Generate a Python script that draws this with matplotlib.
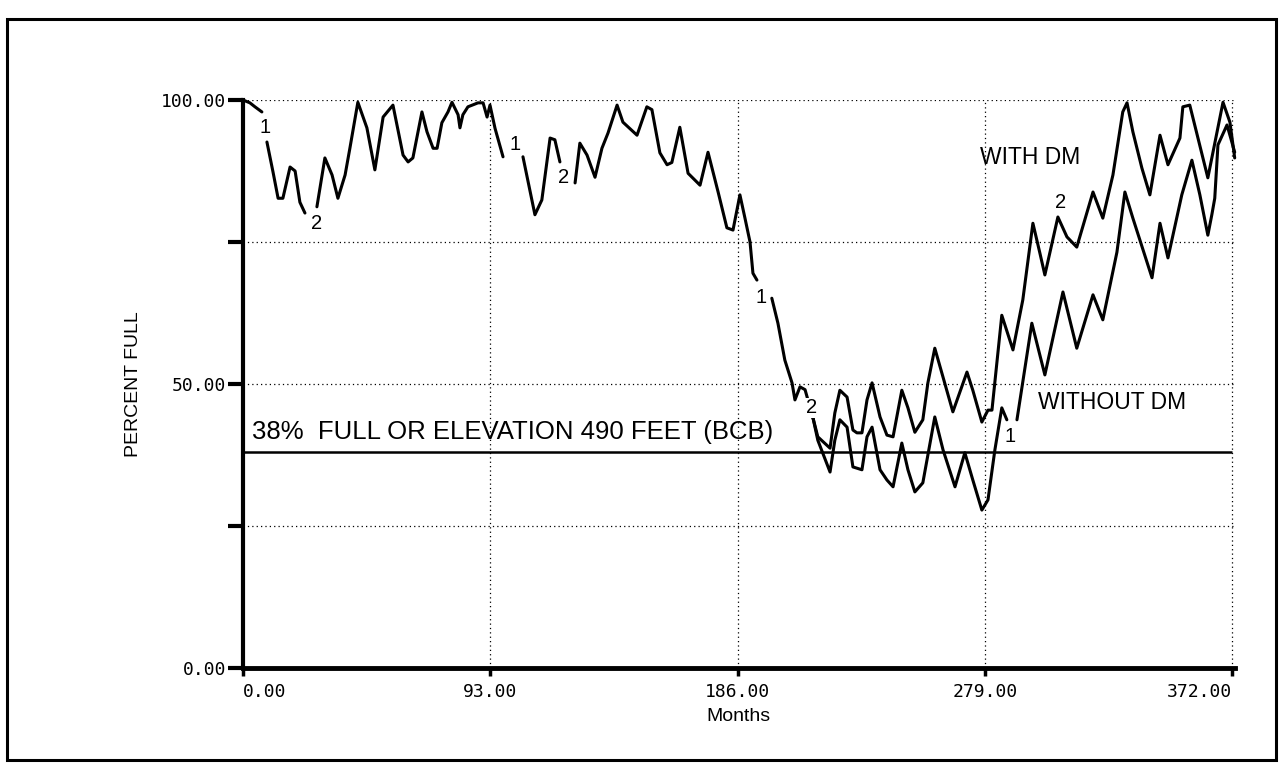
import matplotlib
matplotlib.use("Agg")
import matplotlib.pyplot as plt
from matplotlib.patches import Rectangle

nan = float('nan')

# ---- data (months, percent full) ----
# both runs are identical until about month 214; nan = break in the drawn curve
months_shared = [0, 2.6, 4.5, 7.1, 8.0, 9.0, 11.3, 13.2, 15.0, 17.7, 19.6, 21.4, 23.3,
                 25.5, 27.8, 30.8, 33.5, 35.7, 38.4, 40.2, 43.2, 46.6, 49.6, 52.7, 56.4,
                 60.2, 62.1, 63.9, 67.3, 69.2, 71.5, 73.0, 74.8, 77.1, 78.6, 80.9,
                 81.6, 82.7, 84.6, 88.4, 90.3, 91.8, 92.9, 94.8, 97.8, 101.0, 105.3, 109.8,
                 112.4, 115.5, 117.3, 119.2, 122.0, 124.9, 126.7, 129.4, 132.4, 135.0, 137.3,
                 140.7, 142.9, 148.2, 151.9, 153.8, 156.8, 159.5, 161.3, 164.3, 167.4,
                 171.9, 174.9, 178.7, 182.0, 184.3, 186.9, 188.8, 190.7, 191.8, 193.3,
                 196.0, 198.9, 201.2, 203.8, 206.5, 207.6, 209.5, 211.4, 214.4]
pct_shared = [100, 99.5, 98.8, 97.9, nan, 92.6, 87.3, 82.7, 82.7, 88.2, 87.5, 82.0, 80.1,
              nan, 81.2, 89.8, 86.8, 82.7, 86.8, 91.5, 99.6, 95.1, 87.7, 97.0, 99.1,
              90.3, 89.1, 89.8, 97.9, 94.4, 91.5, 91.5, 96.0, 97.9, 99.6, 97.4,
              95.1, 97.4, 98.8, 99.5, 99.5, 97.0, 99.1, 95.0, 90.0, nan, 90.0, 79.8,
              82.4, 93.3, 93.0, 89.1, nan, 85.4, 92.4, 90.3, 86.4, 91.5, 94.2,
              99.1, 96.1, 93.8, 98.8, 98.3, 90.7, 88.6, 89.0, 95.2, 87.1,
              85.0, 90.8, 83.8, 77.5, 77.1, 83.3, 79.2, 75.0, 69.5, 68.3,
              nan, 65.1, 60.7, 54.2, 50.2, 47.2, 49.5, 49.0, 44.0]

# curve 2 - with demand management
months_with = [214.4, 216.2, 220.8, 222.6, 224.5, 227.2, 229.4, 230.9, 232.8, 234.7,
               236.6, 239.6, 242.2, 244.5, 247.8, 250.1, 252.7, 255.7, 257.6, 260.2,
               263.3, 267.0, 272.3, 274.5, 277.9, 280.2, 281.7, 285.4, 289.6, 293.3,
               297.1, 299.7, 301.6, 306.5, 309.9, 313.6, 319.7, 323.4, 327.2, 330.9,
               332.5, 334.7, 338.1, 341.1, 344.9, 347.9, 352.4, 353.5, 356.1, 362.9,
               368.6, 371.2, 373.0]
pct_with = [44.0, 40.7, 38.7, 44.9, 48.9, 47.7, 41.9, 41.4, 41.4, 47.2,
            50.2, 44.2, 41.0, 40.7, 48.9, 45.8, 41.5, 43.7, 50.2, 56.3,
            51.2, 45.1, 52.1, 48.9, 43.3, 45.4, 45.4, 62.1, 56.0, 64.8,
            78.3, 73.1, 69.2, 79.4, 75.9, 74.1, 83.8, 79.2, 86.8, 97.9,
            99.5, 94.4, 88.0, 83.3, 93.8, 88.6, 93.3, 98.8, 99.1, 86.3,
            99.6, 96.1, 89.8]

# curve 1 - without demand management
months_without = [214.4, 216.2, 220.8, 222.6, 224.5, 227.2, 229.4, 232.8, 234.7, 236.6,
                  239.6, 242.2, 244.5, 247.8, 250.1, 252.7, 255.7, 260.2, 263.3, 267.8,
                  271.5, 274.5, 277.9, 280.2, 282.8, 285.4, 287.3, 289.5, 291.1, 296.7,
                  301.6, 308.4, 313.6, 319.7, 323.4, 328.7, 331.7, 334.7, 341.9, 344.9,
                  347.9, 353.1, 356.9, 359.9, 362.9, 364.4, 365.5, 366.7, 370.1, 371.2,
                  373.0]
pct_without = [44.0, 40.1, 34.5, 40.1, 43.7, 42.4, 35.4, 34.9, 40.7, 42.4,
               34.9, 33.1, 31.9, 39.6, 34.9, 31.0, 32.6, 44.2, 38.4, 31.9,
               37.9, 33.1, 27.8, 29.6, 38.4, 45.8, 43.7, nan, 43.7, 60.7,
               51.6, 66.2, 56.3, 65.7, 61.3, 73.2, 83.8, 79.2, 68.7, 78.3,
               72.2, 83.3, 89.4, 83.3, 76.2, 79.8, 82.7, 92.1, 95.6, 93.8,
               90.8]

bcb_level = 38
x_ticks = [0, 93, 186, 279, 372]
x_labels = ['0.00', '93.00', '186.00', '279.00', '372.00']
y_ticks = [0, 25, 50, 75, 100]
y_labels = ['0.00', '', '50.00', '', '100.00']

# curve number markers (label, month, percent)
curve_marks = [('1', 8.3, 95.1), ('2', 27.5, 78.2), ('1', 102.3, 92.1),
               ('2', 120.7, 86.3), ('1', 194.8, 65.3), ('2', 213.8, 45.8),
               ('2', 307.6, 81.9), ('1', 288.5, 40.8)]

# ---- figure ----
W, H = 1283, 774
fig = plt.figure(figsize=(W / 100, H / 100), dpi=100)
fig.patches.append(Rectangle((7 / W, 1 - 760 / H), (1276 - 7) / W, (760 - 19) / H,
                             transform=fig.transFigure, fill=False,
                             edgecolor='black', linewidth=2.2))

ax = fig.add_axes([243 / W, 1 - 668 / H, (1234.7 - 243) / W, (668 - 100) / H])
ax.set_xlim(0, 373)
ax.set_ylim(0, 100)

line_kw = dict(color='black', lw=2.2, clip_on=False, zorder=3,
               solid_joinstyle='round', solid_capstyle='round')
ax.plot(months_shared, pct_shared, **line_kw)
ax.plot(months_with, pct_with, **line_kw)
ax.plot(months_without, pct_without, **line_kw)
ax.hlines(bcb_level, 0, 372, color='black', lw=1.8, zorder=2)

for lab, mx, my in curve_marks:
    ax.text(mx, my, lab, fontsize=14.5, family='Liberation Sans', ha='center', va='center',
            zorder=5, bbox=dict(facecolor='white', edgecolor='none', pad=0.4))

txt = dict(family='Liberation Sans', color='black')
ax.text(3.4, 41.6, '38%  FULL OR ELEVATION 490 FEET (BCB)', fontsize=18.5,
        ha='left', va='center', **txt)
ax.text(296.0, 89.9, 'WITH DM', fontsize=16.5, ha='center', va='center', **txt)
ax.text(327.0, 46.7, 'WITHOUT DM', fontsize=16.5, ha='center', va='center', **txt)

# axes styling
for s in ['top', 'right']:
    ax.spines[s].set_visible(False)
ax.spines['left'].set_linewidth(3)
ax.spines['bottom'].set_linewidth(3.5)

ax.set_xticks(x_ticks)
ax.set_xticklabels(x_labels, family='DejaVu Sans Mono', fontsize=13)
ax.set_yticks(y_ticks)
ax.set_yticklabels(y_labels, family='DejaVu Sans Mono', fontsize=13)
ax.get_xticklabels()[0].set_ha('left')
ax.get_xticklabels()[-1].set_ha('right')
ax.tick_params(axis='y', direction='out', length=11, width=3, pad=1)
ax.tick_params(axis='x', direction='out', length=6, width=2.5, pad=5)

ax.grid(True, color='black', linestyle=(0, (1, 2.5)), linewidth=0.9)
ax.set_axisbelow(True)

ax.set_ylabel('PERCENT FULL', fontsize=14, labelpad=14, **txt)
ax.set_xlabel('Months', fontsize=14, labelpad=5, **txt)

fig.savefig('out.png', dpi=100)
